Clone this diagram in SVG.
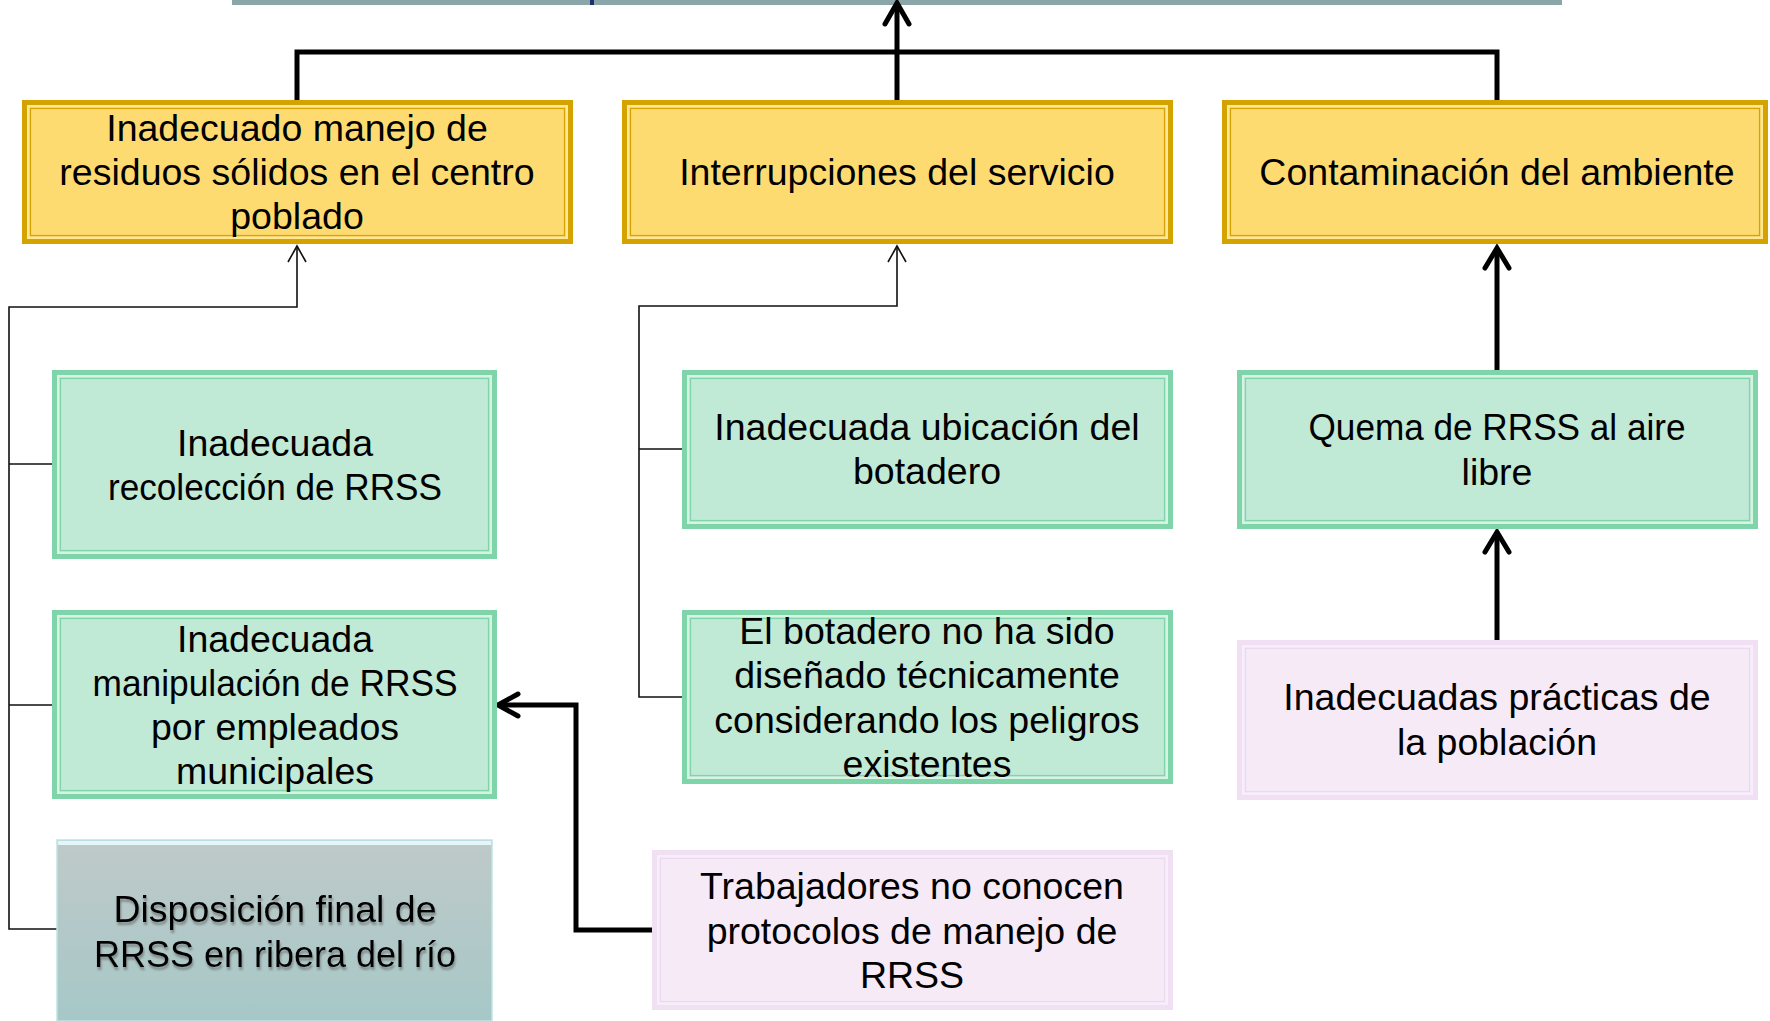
<svg xmlns="http://www.w3.org/2000/svg" width="1770" height="1021" viewBox="0 0 1770 1021">
<defs>
<style>
.t{font-family:"Liberation Sans",Arial,sans-serif;font-size:37.5px;fill:#000;text-anchor:middle}
.yo{fill:#FEDB71;stroke:#D4A300;stroke-width:5}
.yl{fill:none;stroke:#FFE79A;stroke-width:2}
.yi{fill:none;stroke:#D4A300;stroke-width:1.2}
.go{fill:#C0E9D6;stroke:#7FD4A9;stroke-width:5}
.gl{fill:none;stroke:#D6F3E4;stroke-width:2}
.gi{fill:none;stroke:#7FD4A9;stroke-width:1.2}
.po{fill:#F6EAF7;stroke:#F1E0F4;stroke-width:5}
.pl{fill:none;stroke:#F8EEF9;stroke-width:2}
.pi{fill:none;stroke:#ECD9F0;stroke-width:1.2}
.thick{fill:none;stroke:#000;stroke-width:5;stroke-linecap:round;stroke-linejoin:miter}
.thin{fill:none;stroke:#111;stroke-width:1.6}
</style>
<linearGradient id="gd" x1="0" y1="0" x2="0" y2="1">
<stop offset="0" stop-color="#BFC9C9"/>
<stop offset="1" stop-color="#A6C8C7"/>
</linearGradient>
<filter id="sh" x="-10%" y="-20%" width="120%" height="160%">
<feDropShadow dx="1" dy="3" stdDeviation="1.2" flood-color="#555" flood-opacity="0.55"/>
</filter>
</defs>

<g id="top-bar">
<rect x="232" y="0" width="1330" height="5" fill="#8AA6A8"/>
<rect x="590" y="0" width="4" height="5" fill="#16336B"/>
</g>

<g id="connectors">
<path class="thick" d="M297 106 V52 H1497 V106"/>
<path class="thick" d="M897 106 V4"/>
<path class="thick" d="M885 24 L897 3 L909 24"/>
<path class="thick" d="M1497 370 V249"/>
<path class="thick" d="M1485 268 L1497 248 L1509 268"/>
<path class="thick" d="M1497 647 V533"/>
<path class="thick" d="M1485 552 L1497 532 L1509 552"/>
<path class="thick" d="M657 930 H576 V705 H500"/>
<path class="thick" d="M518 694 L498 705 L518 716"/>
<path class="thin" d="M297 246 V307 H9 V929 H57 M9 464 H57 M9 705 H57"/>
<path class="thin" d="M288 262 L297 246 L306 262"/>
<path class="thin" d="M897 246 V306 H639 V697 H688 M639 449 H688"/>
<path class="thin" d="M888 262 L897 246 L906 262"/>
</g>

<g id="n-manejo">
<rect class="yo" x="24.5" y="102.5" width="546" height="139"/>
<rect class="yl" x="28" y="106" width="539" height="132"/>
<rect class="yi" x="30.5" y="108.5" width="534" height="127"/>
<text class="t" x="297" y="141">Inadecuado manejo de</text>
<text class="t" x="297" y="185">residuos sólidos en el centro</text>
<text class="t" x="297" y="229">poblado</text>
</g>

<g id="n-interrupciones">
<rect class="yo" x="624.5" y="102.5" width="546" height="139"/>
<rect class="yl" x="628" y="106" width="539" height="132"/>
<rect class="yi" x="630.5" y="108.5" width="534" height="127"/>
<text class="t" x="897" y="185">Interrupciones del servicio</text>
</g>

<g id="n-contaminacion">
<rect class="yo" x="1224.5" y="102.5" width="541" height="139"/>
<rect class="yl" x="1228" y="106" width="534" height="132"/>
<rect class="yi" x="1230.5" y="108.5" width="529" height="127"/>
<text class="t" x="1497" y="185">Contaminación del ambiente</text>
</g>

<g id="n-recoleccion">
<rect class="go" x="54.5" y="372.5" width="440" height="184"/>
<rect class="gl" x="58" y="376" width="433" height="177"/>
<rect class="gi" x="60.5" y="378.5" width="428" height="172"/>
<text class="t" x="275" y="456">Inadecuada</text>
<text class="t" x="275" y="500" textLength="334" lengthAdjust="spacingAndGlyphs">recolección de RRSS</text>
</g>

<g id="n-manipulacion">
<rect class="go" x="54.5" y="612.5" width="440" height="184"/>
<rect class="gl" x="58" y="616" width="433" height="177"/>
<rect class="gi" x="60.5" y="618.5" width="428" height="172"/>
<text class="t" x="275" y="652">Inadecuada</text>
<text class="t" x="275" y="696" textLength="365" lengthAdjust="spacingAndGlyphs">manipulación de RRSS</text>
<text class="t" x="275" y="740">por empleados</text>
<text class="t" x="275" y="784">municipales</text>
</g>

<g id="n-disposicion">
<rect x="57" y="840" width="435" height="181" fill="url(#gd)" stroke="#BDE4E8" stroke-width="1.5"/>
<rect x="58" y="841" width="433" height="4" fill="#E4F6F7"/>
<g filter="url(#sh)">
<text class="t" x="275" y="922">Disposición final de</text>
<text class="t" x="275" y="967" textLength="362" lengthAdjust="spacingAndGlyphs">RRSS en ribera del río</text>
</g>
</g>

<g id="n-ubicacion">
<rect class="go" x="684.5" y="372.5" width="486" height="154"/>
<rect class="gl" x="688" y="376" width="479" height="147"/>
<rect class="gi" x="690.5" y="378.5" width="474" height="142"/>
<text class="t" x="927" y="440">Inadecuada ubicación del</text>
<text class="t" x="927" y="484">botadero</text>
</g>

<g id="n-botadero">
<rect class="go" x="684.5" y="612.5" width="486" height="169"/>
<rect class="gl" x="688" y="616" width="479" height="162"/>
<rect class="gi" x="690.5" y="618.5" width="474" height="157"/>
<text class="t" x="927" y="644">El botadero no ha sido</text>
<text class="t" x="927" y="688">diseñado técnicamente</text>
<text class="t" x="927" y="733">considerando los peligros</text>
<text class="t" x="927" y="777">existentes</text>
</g>

<g id="n-trabajadores">
<rect class="po" x="654.5" y="852.5" width="516" height="155"/>
<rect class="pl" x="658" y="856" width="509" height="148"/>
<rect class="pi" x="660.5" y="858.5" width="504" height="143"/>
<text class="t" x="912" y="899">Trabajadores no conocen</text>
<text class="t" x="912" y="944">protocolos de manejo de</text>
<text class="t" x="912" y="988">RRSS</text>
</g>

<g id="n-quema">
<rect class="go" x="1239.5" y="372.5" width="516" height="154"/>
<rect class="gl" x="1243" y="376" width="509" height="147"/>
<rect class="gi" x="1245.5" y="378.5" width="504" height="142"/>
<text class="t" x="1497" y="440" textLength="377" lengthAdjust="spacingAndGlyphs">Quema de RRSS al aire</text>
<text class="t" x="1497" y="485">libre</text>
</g>

<g id="n-practicas">
<rect class="po" x="1239.5" y="642.5" width="516" height="155"/>
<rect class="pl" x="1243" y="646" width="509" height="148"/>
<rect class="pi" x="1245.5" y="648.5" width="504" height="143"/>
<text class="t" x="1497" y="710">Inadecuadas prácticas de</text>
<text class="t" x="1497" y="755">la población</text>
</g>
</svg>
